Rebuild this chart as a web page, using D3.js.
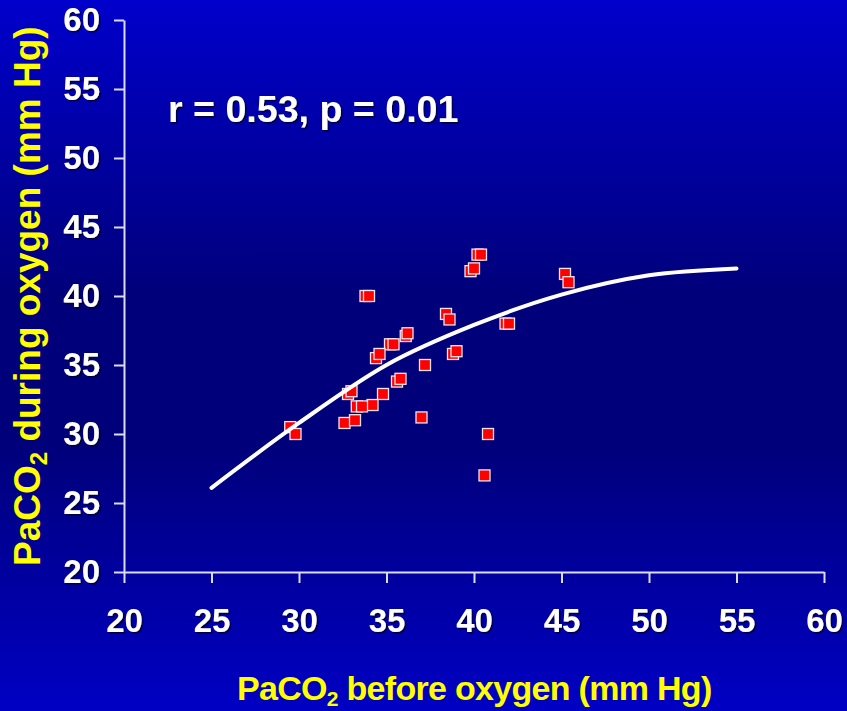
<!DOCTYPE html>
<html>
<head>
<meta charset="utf-8">
<script src="https://cdn.jsdelivr.net/npm/d3@7"></script>
<style>
  body { margin: 0; background: #000080; }
  svg { display: block; }
  text { font-family: "Liberation Sans", Arial, sans-serif; font-weight: bold; }
</style>
</head>
<body>
<script>
// PaCO2 before oxygen (x) vs during oxygen (y), mm Hg
const beforeO2 = [33.8, 34.0, 40.2, 40.4, 39.8, 40.0, 38.4, 38.6, 41.8, 42.0,
  36.1, 36.2, 35.2, 35.4, 34.4, 34.6, 38.8, 39.0, 37.2, 35.6, 35.8, 32.8, 33.0,
  34.8, 34.2, 33.3, 33.6, 32.6, 33.2, 37.0, 40.8, 40.6, 29.5, 29.8, 45.2, 45.4];
const duringO2 = [40.0, 40.0, 43.0, 43.0, 41.8, 42.0, 38.7, 38.3, 38.0, 38.0,
  37.1, 37.3, 36.5, 36.5, 35.5, 35.8, 35.8, 36.0, 35.0, 33.8, 34.0, 32.9, 33.1,
  32.9, 32.1, 32.0, 32.0, 30.8, 31.0, 31.2, 30.0, 27.0, 30.5, 30.0, 41.6, 41.0];

// regression curve
const fitX = [25, 30, 35, 40, 45, 50, 55];
const fitY = [26.1, 30.8, 35.0, 37.9, 40.1, 41.5, 42.0];

const xTicks = [20, 25, 30, 35, 40, 45, 50, 55, 60];
const yTicks = [20, 25, 30, 35, 40, 45, 50, 55, 60];

const statLabel = "r = 0.53, p = 0.01";

const width = 847, height = 711;
const margin = {top: 20, right: 23, bottom: 139, left: 124};

const svg = d3.select("body").append("svg")
    .attr("width", width)
    .attr("height", height);

const defs = svg.append("defs");
const grad = defs.append("linearGradient")
    .attr("id", "bg")
    .attr("x1", 0).attr("y1", 0).attr("x2", 0).attr("y2", 1);
grad.append("stop").attr("offset", "0").attr("stop-color", "#0000cc");
grad.append("stop").attr("offset", "0.42").attr("stop-color", "#00007a");
grad.append("stop").attr("offset", "0.62").attr("stop-color", "#00007a");
grad.append("stop").attr("offset", "1").attr("stop-color", "#0000c4");

const shadow = defs.append("filter").attr("id", "shadow")
    .attr("x", "-10%").attr("y", "-10%").attr("width", "120%").attr("height", "130%");
shadow.append("feDropShadow")
    .attr("dx", 1.5).attr("dy", 1.5).attr("stdDeviation", 0.3)
    .attr("flood-color", "#000030").attr("flood-opacity", 0.9);

svg.append("rect")
    .attr("width", width)
    .attr("height", height)
    .attr("fill", "url(#bg)");

const x = d3.scaleLinear()
    .domain([20, 60])
    .range([margin.left, width - margin.right]);

const y = d3.scaleLinear()
    .domain([20, 60])
    .range([height - margin.bottom, margin.top]);

const axisColor = "#dcdcf0";

// y axis
const yAxis = svg.append("g")
    .attr("transform", `translate(${margin.left},0)`)
    .call(d3.axisLeft(y).tickValues(yTicks).tickSize(10).tickSizeOuter(0).tickPadding(14));

// x axis
const xAxis = svg.append("g")
    .attr("transform", `translate(0,${height - margin.bottom})`)
    .call(d3.axisBottom(x).tickValues(xTicks).tickSize(11).tickSizeOuter(0).tickPadding(26));

[xAxis, yAxis].forEach(g => {
  g.select(".domain").attr("stroke", axisColor).attr("stroke-width", 2);
  g.selectAll(".tick line").attr("stroke", axisColor).attr("stroke-width", 2);
  g.selectAll(".tick text")
      .attr("fill", "#ffffff")
      .attr("font-size", 33)
      .attr("font-family", "'Liberation Sans', Arial, sans-serif")
      .attr("font-weight", "bold")
      .attr("filter", "url(#shadow)");
});

// markers
svg.append("g")
  .selectAll("rect")
  .data(beforeO2.map((d, i) => [d, duringO2[i]]))
  .join("rect")
    .attr("x", d => x(d[0]) - 5.5)
    .attr("y", d => y(d[1]) - 5.5)
    .attr("width", 11)
    .attr("height", 11)
    .attr("fill", "#ff0000")
    .attr("stroke", "#f0e4ec")
    .attr("stroke-width", 1.3);

// fitted curve
const line = d3.line()
    .x(d => x(d[0]))
    .y(d => y(d[1]))
    .curve(d3.curveMonotoneX);

svg.append("path")
    .datum(fitX.map((d, i) => [d, fitY[i]]))
    .attr("fill", "none")
    .attr("stroke", "#ffffff")
    .attr("stroke-width", 4)
    .attr("stroke-linecap", "round")
    .attr("d", line);

// stat label
svg.append("text")
    .attr("x", 168)
    .attr("y", 122)
    .attr("fill", "#ffffff")
    .attr("font-size", 37.6)
    .attr("filter", "url(#shadow)")
    .text(statLabel);

// axis titles
const xTitle = svg.append("text")
    .attr("x", 237)
    .attr("y", 700)
    .attr("fill", "#ffff00")
    .attr("font-size", 34)
    .attr("letter-spacing", "-0.7px");
xTitle.append("tspan").text("PaCO");
xTitle.append("tspan").attr("font-size", 21).attr("dy", 6).text("2");
xTitle.append("tspan").attr("dy", -6).text(" before oxygen (mm Hg)");

const yTitle = svg.append("text")
    .attr("transform", "translate(40,566) rotate(-90)")
    .attr("fill", "#ffff00")
    .attr("font-size", 37);
yTitle.append("tspan").text("PaCO");
yTitle.append("tspan").attr("font-size", 24).attr("dy", 7).text("2");
yTitle.append("tspan").attr("dy", -7).text(" during oxygen (mm Hg)");
</script>
</body>
</html>
